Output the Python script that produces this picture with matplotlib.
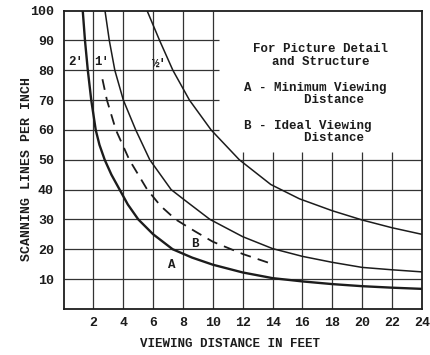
import matplotlib
matplotlib.use("Agg")
import matplotlib.pyplot as plt

# curve readings (feet, lines per inch)
a_x = [1.28, 1.43, 1.62, 1.85, 2.15, 2.4, 2.75, 3.2, 3.75, 4.3, 5.0, 6.0, 7.3, 8.6, 10.0, 12.0, 14.0, 16.0, 18.0, 20.0, 22.0, 24.0]
a_y = [100, 90, 80, 70, 60, 55, 50, 45, 40, 35, 30, 25, 20, 17.2, 14.8, 12.2, 10.3, 9.2, 8.3, 7.6, 7.1, 6.7]

b_x = [2.6, 2.9, 3.5, 4.4, 5.6, 6.5, 7.5, 8.8, 10.0, 12.0, 14.0]
b_y = [77, 70, 60, 50, 40, 34.5, 30, 26, 22.5, 18.4, 15]

one_x = [2.77, 3.06, 3.43, 4.0, 4.83, 5.77, 7.2, 8.1, 9.8, 12.0, 14.0, 16.0, 18.0, 20.0, 22.0, 24.0]
one_y = [100, 90, 80, 70, 60, 50, 40, 36.5, 30, 24.2, 20.2, 17.6, 15.6, 13.9, 13.1, 12.4]

half_x = [5.59, 6.43, 7.32, 8.43, 9.88, 11.77, 13.88, 15.8, 18.0, 20.0, 22.0, 24.0]
half_y = [100, 90, 80, 70, 60, 50, 41.7, 36.9, 32.9, 29.8, 27.2, 25]

x_ticks = [2, 4, 6, 8, 10, 12, 14, 16, 18, 20, 22, 24]
y_ticks = [10, 20, 30, 40, 50, 60, 70, 80, 90, 100]

mono = "Liberation Mono"
ink = "#1c1c1c"

fig = plt.figure(figsize=(4.3, 3.55), dpi=100)
ax = fig.add_axes([0.148, 0.13, 0.833, 0.84])
ax.set_xlim(0, 24)
ax.set_ylim(0, 100)

# grid, left open where the note sits
for x in x_ticks[:-1]:
    top = 100 if x <= 10 else 52.5
    ax.vlines(x, 0, top, color="#333333", lw=0.9, zorder=1)
for y in y_ticks[:-1]:
    right = 24 if y <= 50 else 10.4
    ax.hlines(y, 0, right, color="#333333", lw=0.9, zorder=1)

ax.plot(a_x, a_y, color=ink, lw=1.7, zorder=3)
ax.plot(b_x, b_y, color=ink, lw=1.3, ls=(0, (6, 4)), zorder=3)
ax.plot(one_x, one_y, color=ink, lw=1.1, zorder=3)
ax.plot(half_x, half_y, color=ink, lw=1.1, zorder=3)

lab = dict(family=mono, fontweight="bold", fontsize=9, color=ink, ha="center", va="center")
ax.text(0.8, 82.7, "2'", **lab)
ax.text(2.55, 82.7, "1'", **lab)
ax.text(6.4, 82.2, "½'", **lab)
ax.text(7.25, 14.7, "A", **lab)
ax.text(8.8, 21.8, "B", **lab)

note = dict(family=mono, fontweight="bold", fontsize=9, color=ink, va="center")
ax.text(17.2, 85.0, "For Picture Detail\nand Structure", ha="center", linespacing=1.05, **note)
ax.text(12.1, 74.0, "A - Minimum Viewing", ha="left", **note)
ax.text(12.1, 70.0, "        Distance", ha="left", **note)
ax.text(12.1, 61.3, "B - Ideal Viewing", ha="left", **note)
ax.text(12.1, 57.3, "        Distance", ha="left", **note)

ax.set_xticks(x_ticks)
ax.set_yticks(y_ticks)
ax.set_xticklabels([str(t) for t in x_ticks], family=mono, fontweight="bold", fontsize=9.5, color=ink)
ax.set_yticklabels([str(t) for t in y_ticks], family=mono, fontweight="bold", fontsize=9.5, color=ink)
ax.tick_params(length=0, pad=7)
ax.tick_params(axis="x", pad=6)

for s in ax.spines.values():
    s.set_linewidth(1.3)
    s.set_color(ink)

ax.set_xlabel("VIEWING DISTANCE IN FEET", family=mono, fontweight="bold", fontsize=9, color=ink)
ax.xaxis.set_label_coords(0.464, -0.098)
ax.set_ylabel("SCANNING LINES PER INCH", family=mono, fontweight="bold", fontsize=9.5, color=ink)
ax.yaxis.set_label_coords(-0.085, 0.47)

fig.savefig("out.png", dpi=100)
